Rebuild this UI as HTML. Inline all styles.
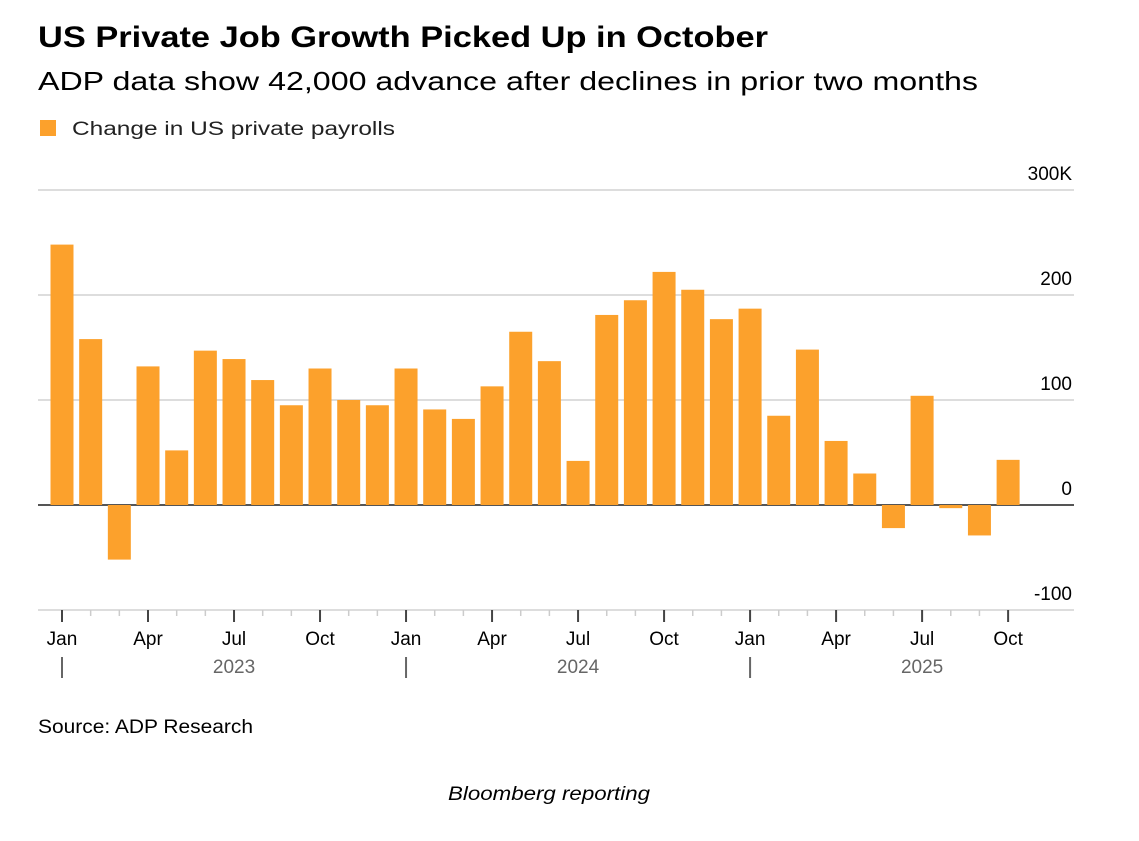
<!DOCTYPE html>
<html><head><meta charset="utf-8"><style>
body{margin:0;background:#fff;font-family:"Liberation Sans",sans-serif;}
</style></head><body>
<svg width="1139" height="836" viewBox="0 0 1139 836" xmlns="http://www.w3.org/2000/svg" font-family="Liberation Sans, sans-serif">
<text x="38" y="47" font-size="30" font-weight="bold" fill="#000" textLength="730" lengthAdjust="spacingAndGlyphs">US Private Job Growth Picked Up in October</text>
<text x="38" y="90" font-size="26" fill="#000" textLength="940" lengthAdjust="spacingAndGlyphs">ADP data show 42,000 advance after declines in prior two months</text>
<rect x="40" y="120" width="16" height="16" fill="#FCA12C"/>
<text x="72" y="135" font-size="19" fill="#222" textLength="323" lengthAdjust="spacingAndGlyphs">Change in US private payrolls</text>
<g id="grid"></g>
<g id="bars"></g>
<g id="axis"></g>
<text x="38" y="733" font-size="19" fill="#000" textLength="215" lengthAdjust="spacingAndGlyphs">Source: ADP Research</text>
<text x="448" y="800" font-size="19" font-style="italic" fill="#000" textLength="202" lengthAdjust="spacingAndGlyphs">Bloomberg reporting</text>
</svg>
<script>
const months=["Jan","Feb","Mar","Apr","May","Jun","Jul","Aug","Sep","Oct","Nov","Dec","Jan","Feb","Mar","Apr","May","Jun","Jul","Aug","Sep","Oct","Nov","Dec","Jan","Feb","Mar","Apr","May","Jun","Jul","Aug","Sep","Oct"];
const values=[248,158,-52,132,52,147,139,119,95,130,100,95,130,91,82,113,165,137,42,181,195,222,205,177,187,85,148,61,30,-22,104,-3,-29,43];
const yTicks=[300,200,100,0,-100];
const yTickLabels=["300K","200","100","0","-100"];
const years=["2023","2024","2025"];
const NS="http://www.w3.org/2000/svg";
const y=v=>505-v*1.05;
const x=i=>62+i*28.67;
function mk(tag,attrs,parent){const e=document.createElementNS(NS,tag);for(const k in attrs)e.setAttribute(k,attrs[k]);document.getElementById(parent).appendChild(e);return e;}
yTicks.forEach((t,i)=>{
  const l=mk("line",{x1:38,x2:1074,y1:y(t),y2:y(t),stroke:t===0?"#555":"#ddd","stroke-width":2},"grid");
  
  
  const tx=mk("text",{x:1072,y:y(t)-10,"font-size":19,"text-anchor":"end",fill:"#000"},"grid");
  tx.textContent=yTickLabels[i];
  
  
});
values.forEach((v,i)=>{
  const r=mk("rect",{x:x(i)-11.5,width:23,y:Math.min(y(v),y(0)),height:Math.abs(y(v)-y(0)),fill:"#FCA12C"},"bars");
  
  
});
months.forEach((m,i)=>{
  const q=i%3===0;
  const t=mk("line",{x1:x(i),x2:x(i),y1:610,y2:q?622:616,stroke:q?"#444":"#ccc","stroke-width":q?2:1.5},"axis");
  
  
  if(q){const tx=mk("text",{x:x(i),y:645,"font-size":19,"text-anchor":"middle",fill:"#000"},"axis");tx.textContent=m;
  
  }
});
years.forEach((yr,k)=>{
  const s=mk("line",{x1:x(k*12),x2:x(k*12),y1:657,y2:678,stroke:"#666","stroke-width":2},"axis");
  
  
  const tx=mk("text",{x:x(k*12+6),y:673,"font-size":19,fill:"#666","text-anchor":"middle"},"axis");
  tx.textContent=yr;
  
  
});
</script>
</body></html>
